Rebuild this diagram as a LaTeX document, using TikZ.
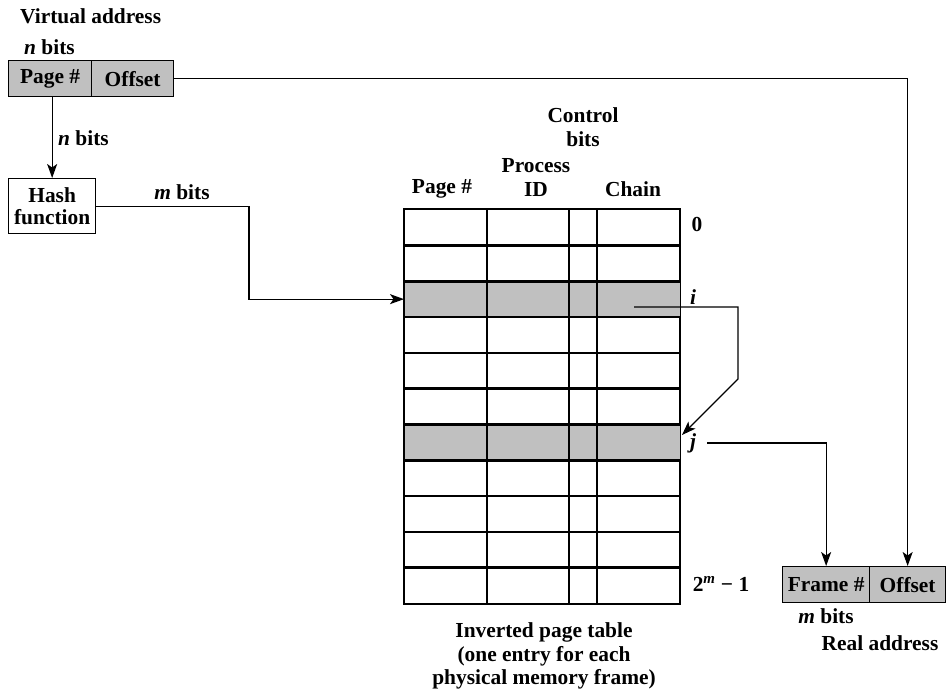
\documentclass[tikz,border=0pt]{standalone}
\usepackage{fontspec}
\setmainfont{Liberation Serif}
\usetikzlibrary{arrows.meta}
\definecolor{cellgray}{RGB}{192,192,192}
\begin{document}
\begin{tikzpicture}[x=1pt,y=-1pt,
  font=\fontsize{21.4}{23.5}\selectfont\bfseries,
  lbl/.style={inner sep=0pt, align=center},
  cell/.style={draw, line width=1.3pt, inner sep=0pt, minimum height=36pt, align=center},
  conn/.style={line width=1.1pt},
  arr/.style={conn,-{Stealth[length=14pt,width=10pt,inset=3.5pt]}}]
\useasboundingbox (0,0) rectangle (946,693);

% virtual address
\node[lbl, anchor=west] (vlabel) at (20,16) {Virtual address};
\node[lbl, anchor=west] (vnbits) at (24,47) {{\itshape n} bits};
\node[cell, fill=cellgray, minimum width=83pt, anchor=north west] (vpage) at (8,60) {Page \#};
\node[cell, fill=cellgray, minimum width=82pt, anchor=north west] (voff) at (91,60) {Offset};

% hash function
\node[cell, minimum width=87pt, minimum height=55pt, anchor=north west] (hash) at (8,178) {Hash\\[-2pt]function};
\node[lbl, anchor=west] (nbits2) at (58,138) {{\itshape n} bits};
\node[lbl] (mbits1) at (182,192) {{\itshape m} bits};

% table
\foreach \r in {0,...,10} {
  \node[cell, minimum width=275pt, minimum height=35.8pt, anchor=north west] (row\r) at (404,{209+35.8*\r}) {};
}
\fill[cellgray] (row2.north west) rectangle (row2.south east);
\fill[cellgray] (row6.north west) rectangle (row6.south east);
\foreach \r in {0,...,10} {
  \draw[line width=1.3pt] (row\r.north west) rectangle (row\r.south east);
}
\foreach \cx in {487,569,597} {
  \draw[line width=1.3pt] (\cx,209) -- (\cx,602.8);
}

% headers
\node[lbl] (hpage) at (442,189) {Page \#};
\node[lbl] (hproc) at (536,177.5) {Process\\ID};
\node[lbl] (hctrl) at (583,127) {Control\\bits};
\node[lbl] (hchain) at (633,189) {Chain};

% row labels
\node[lbl] (l0) at (697,224) {0};
\node[lbl] (li) at (693,297) {\itshape i};
\node[lbl] (lj) at (693,443) {\itshape j};
\node[lbl] (lm) at (721,584) {2\textsuperscript{\itshape m} − 1};

% caption
\node[lbl] (cap) at (544,656) {Inverted page table\\(one entry for each\\physical memory frame)};

% real address
\node[cell, fill=cellgray, minimum width=87pt, anchor=north west] (rframe) at (782,566) {Frame \#};
\node[cell, fill=cellgray, minimum width=76pt, anchor=north west] (roff) at (869,566) {Offset};
\node[lbl] (mbits2) at (826,616) {{\itshape m} bits};
\node[lbl] (rlabel) at (880,643) {Real address};

% connectors
\draw[arr] (hash.north |- vpage.south) -- (hash.north);
\coordinate (hc) at (249,0);
\draw[arr] (hash.east) -| (hc |- row2.west) -- (row2.west);
\coordinate (ci) at (634,307);
\coordinate (cb) at (738,379);
\coordinate (cj) at (682,435);
\draw[arr] (ci) -| (cb) -- (cj);
\coordinate (js) at (707,443);
\draw[arr] (js) -| (rframe.north);
\draw[arr] (voff.east) -| (roff.north);
\end{tikzpicture}
\end{document}
